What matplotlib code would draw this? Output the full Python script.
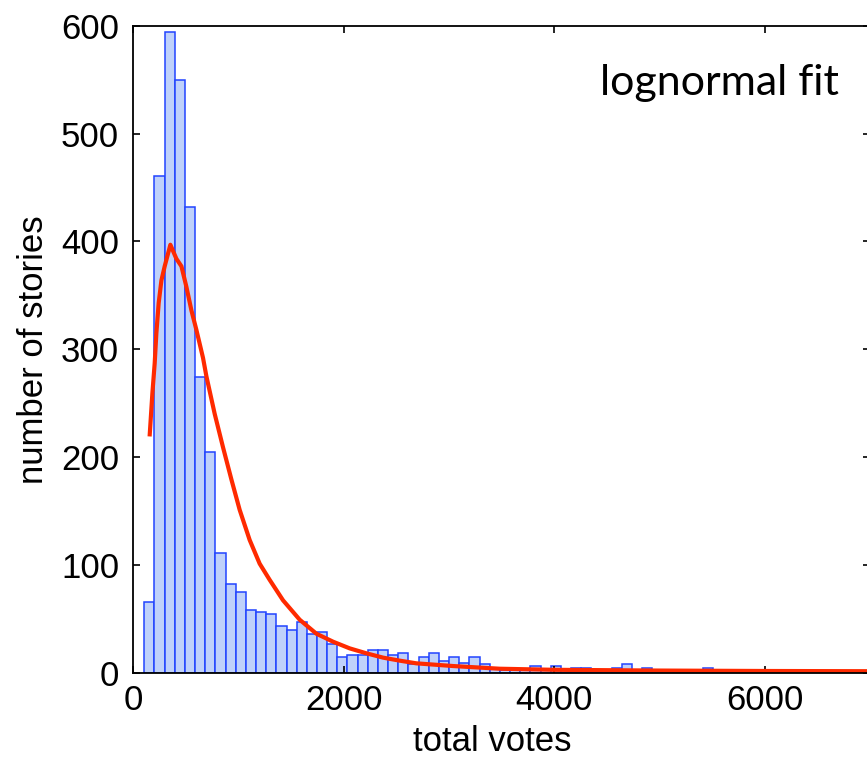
import numpy as np
import matplotlib
matplotlib.use("Agg")
import matplotlib.pyplot as plt

# histogram: bin width ~96.5 votes, first bin starts ~107
BIN_START = 107
BIN_WIDTH = 96.5
story_counts = [65, 461, 594, 550, 432, 274, 205, 111, 82, 75,
                58, 56, 54, 43, 39, 47, 36, 38, 26, 14,
                16, 16, 21, 21, 16, 18, 8, 14, 18, 11,
                14, 9, 14, 8, 3, 2, 2, 2, 6, 2,
                6, 2, 4, 4, 1, 2, 4, 8, 2, 4,
                1, 0, 1, 1, 0, 4, 1, 0, 0, 1,
                0, 0, 1, 0, 0, 0, 1, 0, 0, 0]

# lognormal fit curve
fit_votes = [159, 184, 206, 222, 244, 270, 301, 355, 412, 460,
             507, 555, 602, 665, 697, 776, 855, 935, 1013, 1108,
             1203, 1298, 1425, 1583, 1742, 1900, 2058, 2217, 2375, 2533,
             2692, 3040, 3483, 4000, 5000, 6000, 7000]
fit_counts = [221, 259, 287, 315, 343, 364, 377, 397, 384, 377,
              358, 336, 318, 292, 275, 240, 209, 179, 151, 123,
              101, 86, 67, 49, 36, 28.6, 22.4, 17.8, 13.8, 11,
              8.5, 6, 3.5, 2.5, 1.8, 1.4, 1.2]

x_ticks = [0, 2000, 4000, 6000]
y_ticks = [0, 100, 200, 300, 400, 500, 600]

plt.rcParams['font.family'] = ['Liberation Sans', 'DejaVu Sans']

fig = plt.figure(figsize=(8.67, 7.59), dpi=100)
ax = fig.add_axes([133 / 867, 1 - 672.5 / 759, (870 - 133) / 867, (672.5 - 26) / 759])

left_edges = BIN_START + BIN_WIDTH * np.arange(len(story_counts))
ax.bar(left_edges, story_counts, width=BIN_WIDTH, align='edge',
       color='#bfd1fa', edgecolor='#2244ff', linewidth=1.1)
ax.plot(fit_votes, fit_counts, color='#ff2a00', linewidth=3.0)

ax.set_xlim(0, 7000)
ax.set_ylim(0, 600)
ax.set_xticks(x_ticks)
ax.set_yticks(y_ticks)
ax.tick_params(direction='in', length=5, width=1.2, labelsize=25,
               top=True, right=True)
ax.tick_params(axis='x', pad=8)
ax.tick_params(axis='y', pad=10)
for s in ax.spines.values():
    s.set_linewidth(1.3)

ax.set_xlabel("total votes", fontsize=25, labelpad=6)
ax.xaxis.label.set_x((492 - 133) / 737)
ax.set_ylabel("number of stories", fontsize=25, labelpad=8)

fig.text(600 / 867, 1 - 95 / 759, "lognormal fit", fontsize=31,
         family=['Lato', 'DejaVu Sans'], ha='left', va='baseline')

fig.savefig("out.png", dpi=100)
